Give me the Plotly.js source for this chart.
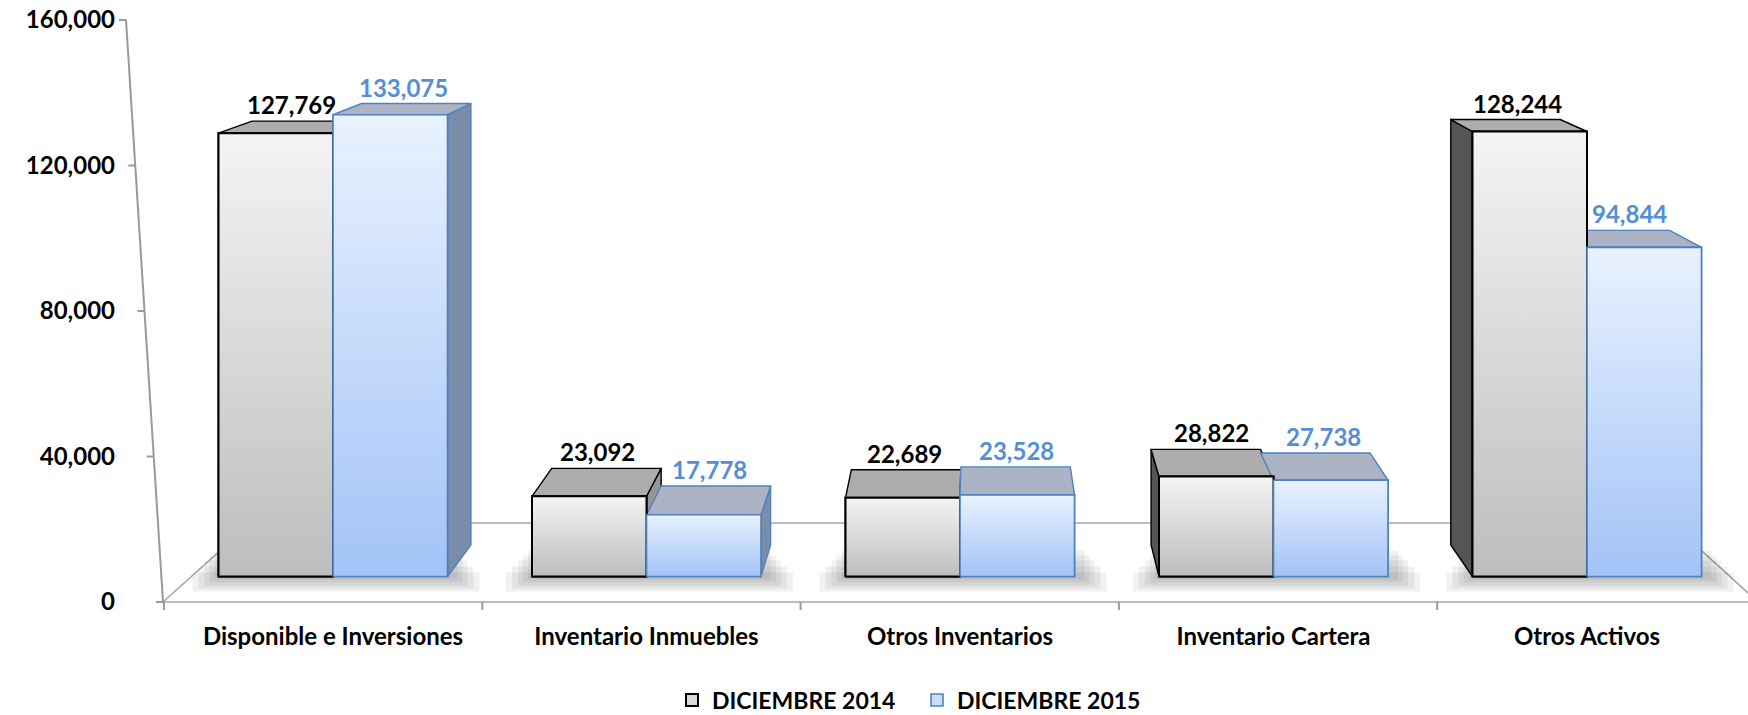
<!DOCTYPE html>
<html>
<head>
<meta charset="utf-8">
<script src="https://cdn.plot.ly/plotly-3.0.1.min.js"></script>
<style>html,body{margin:0;padding:0;background:#fff;}#chart{width:1748px;height:715px;}</style>
</head>
<body>
<div id="chart"></div>
<script>
// ---- data ----
const categories = ['Disponible e Inversiones', 'Inventario Inmuebles', 'Otros Inventarios', 'Inventario Cartera', 'Otros Activos'];
const dic2014 = [127769, 23092, 22689, 28822, 128244];
const dic2015 = [133075, 17778, 23528, 27738, 94844];
const seriesNames = ['DICIEMBRE 2014', 'DICIEMBRE 2015'];
const yTickVals = [0, 40000, 80000, 120000, 160000];

// ---- layout geometry (pixels of the 1748x715 page) ----
const W = 1748, H = 715;
const L = 124, R = 1748, T = 20, B = 602;
const pxPerCat = 313.5, cat0px = 333;
const barBasePx = 576.5, pxPerVal = 0.00347;
const k = 0.044;                          // depth of the 3D boxes
const vpX = (979 - cat0px) / pxPerCat;     // vanishing point (x units)
const vpV = (barBasePx + 140) / pxPerVal;  // vanishing point (value units)
const barW = 114.5 / pxPerCat;
const xRange = [(L - cat0px) / pxPerCat, (R - cat0px) / pxPerCat];
const y2Range = [-(B - barBasePx) / pxPerVal, (barBasePx - T) / pxPerVal];
const FONT = 'Lato, "Open Sans", sans-serif';

const styles = [
  {fill: '#d9d9d9', grad: [[0, '#bdbdbd'], [1, '#f4f4f4']], line: '#000000', top: '#adadad', sideR: '#969696', sideL: '#555555', label: '#000000', lw: 2},
  {fill: '#c9dcfa', grad: [[0, '#a2c3f7'], [1, '#e9f2fe']], line: '#4f81bd', top: '#abb3c4', sideR: '#7b8cab', sideL: '#5d6f90', label: '#558ed5', lw: 1.6}
];
const seriesData = [dic2014, dic2015];
const xs = categories.map((c, i) => i);

function back(x, v) { return [x + k * (vpX - x), v + k * (vpV - v)]; }

// empty trace so the main (visible) axes exist
const traces = [{type: 'scatter', x: [], y: [], xaxis: 'x', yaxis: 'y', showlegend: false, hoverinfo: 'skip'}];

// side faces and top faces (drawn beneath the front faces)
const sideTraces = [], topTraces = [];
seriesData.forEach((vals, s) => {
  const st = styles[s];
  const sx = [], sy = [], lx = [], ly = [], tx = [], ty = [];
  vals.forEach((v, i) => {
    const xl = i + (s === 0 ? -barW : 0), xr = xl + barW;
    const bl = back(xl, v), br = back(xr, v), b0r = back(xr, 0), b0l = back(xl, 0);
    tx.push(xl, xr, br[0], bl[0], xl, null);
    ty.push(v, v, br[1], bl[1], v, null);
    if (xr < vpX) { sx.push(xr, xr, br[0], b0r[0], xr, null); sy.push(0, v, br[1], b0r[1], 0, null); }
    if (xl > vpX) { lx.push(xl, xl, bl[0], b0l[0], xl, null); ly.push(0, v, bl[1], b0l[1], 0, null); }
  });
  const common = {type: 'scatter', mode: 'lines', fill: 'toself', xaxis: 'x', yaxis: 'y2', showlegend: false, hoverinfo: 'skip', line: {color: st.line, width: 1.4}};
  sideTraces.push(Object.assign({}, common, {x: sx, y: sy, fillcolor: st.sideR}));
  sideTraces.push(Object.assign({}, common, {x: lx, y: ly, fillcolor: st.sideL}));
  topTraces.push(Object.assign({}, common, {x: tx, y: ty, fillcolor: st.top}));
});
traces.push(...sideTraces, ...topTraces);

// front faces: the bars
seriesData.forEach((vals, s) => {
  traces.push({
    type: 'bar', name: seriesNames[s], x: xs, y: vals, xaxis: 'x', yaxis: 'y3',
    marker: {color: styles[s].fill, line: {color: styles[s].line, width: styles[s].lw}},
    hoverinfo: 'skip'
  });
});
// vertical light-to-dark shading of each bar's front face
seriesData.forEach((vals, s) => {
  vals.forEach((v, i) => {
    const xl = i + (s === 0 ? -barW : 0), xr = xl + barW;
    traces.push({
      type: 'scatter', mode: 'lines', fill: 'toself', xaxis: 'x', yaxis: 'y3', showlegend: false, hoverinfo: 'skip',
      x: [xl, xl, xr, xr, xl], y: [0, v, v, 0, 0],
      fillgradient: {type: 'vertical', colorscale: styles[s].grad},
      line: {color: styles[s].line, width: styles[s].lw}
    });
  });
});

// value labels
const annotations = [];
seriesData.forEach((vals, s) => {
  vals.forEach((v, i) => {
    const xc = i + (s === 0 ? -barW / 2 : barW / 2);
    annotations.push({
      x: xc + k / 2 * (vpX - xc), y: back(xc, v)[1], xref: 'x', yref: 'y3',
      text: v.toLocaleString('en-US'), showarrow: false, yanchor: 'bottom', yshift: 0,
      font: {family: FONT, size: 24, weight: 700, color: styles[s].label}
    });
  });
});

// decorations in page pixels -> paper
const xp = px => (px - L) / (R - L);
const yp = py => (B - py) / (B - T);
const shapes = [];
// floor
shapes.push({type: 'path', xref: 'paper', yref: 'paper', layer: 'below',
  path: `M${xp(163)},${yp(602)} L${xp(251)},${yp(523)} L${xp(1671)},${yp(523)} L${xp(1758)},${yp(602)} Z`,
  fillcolor: '#ffffff', line: {color: '#a6a6a6', width: 1.6}});
// soft shadows under each group
xs.forEach(i => {
  const gl = cat0px + pxPerCat * (i - barW), gr = cat0px + pxPerCat * (i + barW);
  [[26, 15], [20, 12], [14, 9], [9, 6], [4, 3]].forEach(([e, d]) => {
    shapes.push({type: 'rect', xref: 'paper', yref: 'paper', layer: 'below',
      x0: xp(gl - e), x1: xp(gr + e + 6), y0: yp(barBasePx + d), y1: yp(barBasePx - 30 + e),
      fillcolor: 'rgba(0,0,0,0.055)', line: {width: 0}});
  });
});
// slanted value axis and its ticks
shapes.push({type: 'line', xref: 'paper', yref: 'paper', x0: xp(126), y0: yp(20), x1: xp(163), y1: yp(602), line: {color: '#9a9a9a', width: 2}});
yTickVals.forEach(t => {
  const py = B - t / 160000 * (B - T);
  const ax = 126 + (py - 20) / 582 * 37;
  shapes.push({type: 'line', xref: 'paper', yref: 'paper', x0: xp(ax - 7), y0: yp(py), x1: xp(ax), y1: yp(py), line: {color: '#9a9a9a', width: 2}});
});
// category boundary ticks
for (let j = 0; j < 5; j++) {
  const bx = 164 + 318.3 * j;
  shapes.push({type: 'line', xref: 'paper', yref: 'paper', x0: xp(bx), y0: yp(602), x1: xp(bx), y1: yp(610), line: {color: '#9a9a9a', width: 2}});
}

const layout = {
  width: W, height: H,
  margin: {l: L, r: W - R, t: T, b: H - B, pad: 0, autoexpand: false},
  paper_bgcolor: '#ffffff', plot_bgcolor: 'rgba(0,0,0,0)',
  barmode: 'group', bargap: 1 - 2 * barW, bargroupgap: 0,
  font: {family: FONT, color: '#000000'},
  xaxis: {range: xRange, anchor: 'y', tickvals: xs, ticktext: categories, showgrid: false, zeroline: false, showline: false,
    ticks: '', ticklabelstandoff: 18, automargin: false, tickfont: {family: FONT, size: 24, weight: 700, color: '#000'}},
  yaxis: {range: [0, 160000], anchor: 'x', visible: true, tickvals: yTickVals, tickformat: ',d', showgrid: false, zeroline: false, showline: false,
    ticks: '', ticklabelstandoff: 8, automargin: false, showticklabels: true, tickfont: {family: FONT, size: 24, weight: 700, color: '#000'}},
  yaxis2: {range: y2Range, overlaying: 'y', visible: false},
  yaxis3: {range: y2Range, overlaying: 'y', visible: false},
  showlegend: true,
  legend: {orientation: 'h', x: xp(917), xanchor: 'center', y: yp(700), yanchor: 'middle',
    entrywidth: 200, entrywidthmode: 'pixels',
    font: {family: FONT, size: 23, weight: 700, color: '#000'}, bgcolor: 'rgba(0,0,0,0)'},
  annotations: annotations,
  shapes: shapes
};

Plotly.newPlot('chart', traces, layout, {displayModeBar: false, staticPlot: true});
</script>
</body>
</html>
